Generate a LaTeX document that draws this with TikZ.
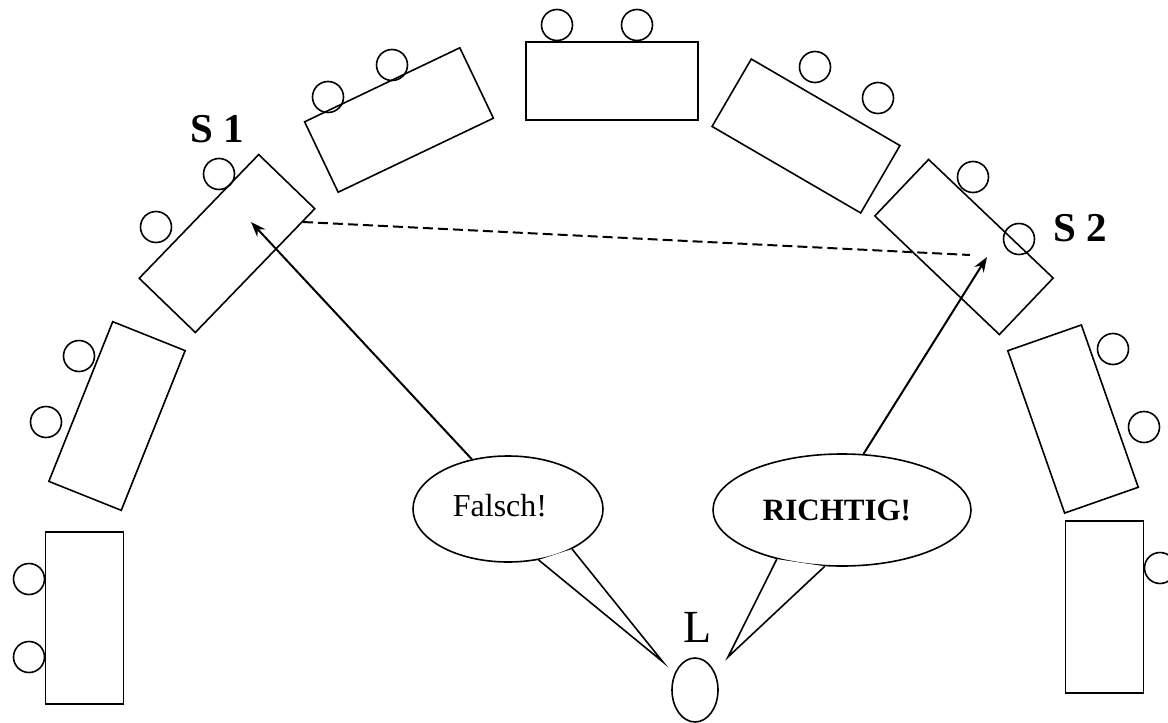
\documentclass[tikz,border=0pt]{standalone}
\usepackage{fontspec}
\setmainfont{Liberation Serif}
\usetikzlibrary{shapes.geometric,arrows.meta}
\begin{document}
\begin{tikzpicture}[x=1pt,y=-1pt,
  desk/.style={draw,line width=1.6pt,rectangle,minimum width=172pt,minimum height=78pt,inner sep=0pt},
  chair/.style={draw,line width=1.6pt,circle,minimum size=31pt,inner sep=0pt},
  bubble/.style={draw,line width=1.6pt,ellipse,inner sep=0pt},
  tailline/.style={line width=1.6pt,line join=miter},
  arr/.style={line width=2pt,-{Stealth[length=15pt,width=11pt]}},
  slabel/.style={font=\fontsize{41}{41}\selectfont\bfseries,inner sep=0pt},
  dashline/.style={line width=2pt,dash pattern=on 10pt off 5pt}]
\useasboundingbox (0,0) rectangle (1168,723);
\clip (0,0) rectangle (1168,723);
% desks
\node[desk,rotate=90]    (d1) at (84.5,618) {};
\node[desk,rotate=68.2]  (d2) at (117,416) {};
\node[desk,rotate=46]    (d3) at (227,243.5) {};
\node[desk,rotate=25.5]  (d4) at (399,120) {};
\node[desk]              (d5) at (612,81) {};
\node[desk,rotate=-30.2] (d6) at (806,136) {};
\node[desk,rotate=-43.6] (d7) at (964,247) {};
\node[desk,rotate=-70.7] (d8) at (1073,419) {};
\node[desk,rotate=90]    (d9) at (1104.5,607) {};
% chairs
\node[chair] (c1a) at (29,579) {};
\node[chair] (c1b) at (29,657) {};
\node[chair] (c2a) at (79,356) {};
\node[chair] (c2b) at (46,422) {};
\node[chair] (c3a) at (219,174) {};
\node[chair] (c3b) at (156,227) {};
\node[chair] (c4a) at (328,97) {};
\node[chair] (c4b) at (392,65) {};
\node[chair] (c5a) at (557,25) {};
\node[chair] (c5b) at (637,25) {};
\node[chair] (c6a) at (815,67) {};
\node[chair] (c6b) at (878,98) {};
\node[chair] (c7a) at (973,177) {};
\node[chair] (c7b) at (1019,239) {};
\node[chair] (c8a) at (1113,349) {};
\node[chair] (c8b) at (1144,427) {};
\node[chair] (c9a) at (1160,568) {};
% labels
\node[slabel] (s1) at (217,129) {S 1};
\node[slabel] (s2) at (1080,228) {S 2};
\node[font=\fontsize{46}{46}\selectfont,inner sep=0pt] (lt) at (698,627) {L};
% teacher
\node[draw,line width=1.6pt,ellipse,minimum width=46pt,minimum height=64pt,inner sep=0pt] (lp) at (695,690) {};
% speech bubbles
\node[bubble,minimum width=190pt,minimum height=106pt] (f) at (508,509) {};
\node[font=\fontsize{32}{32}\selectfont,inner sep=0pt] (ft) at (500,506) {Falsch!};
\node[bubble,minimum width=258pt,minimum height=112pt] (r) at (842,510) {};
\node[font=\fontsize{31}{31}\selectfont\bfseries,inner sep=0pt] (rt) at (837,510) {RICHTIG!};
\coordinate (ftip) at (663,662);
\coordinate (rtip) at (728,657);
\fill[white] (f.301) -- (ftip) -- (f.328) -- cycle;
\draw[tailline] (f.301) -- (ftip) -- (f.328);
\fill[white] (r.217) -- (rtip) -- (r.253) -- cycle;
\draw[tailline] (r.217) -- (rtip) -- (r.253);
% targets
\coordinate (t1) at (251,222);
\coordinate (t2) at (987,257);
\coordinate (e1) at (303,222);
\coordinate (e2) at (970,255);
\draw[arr] (f.126) -- (t1);
\draw[arr] (r.69) -- (t2);
\draw[dashline] (e1) -- (e2);
\end{tikzpicture}
\end{document}
